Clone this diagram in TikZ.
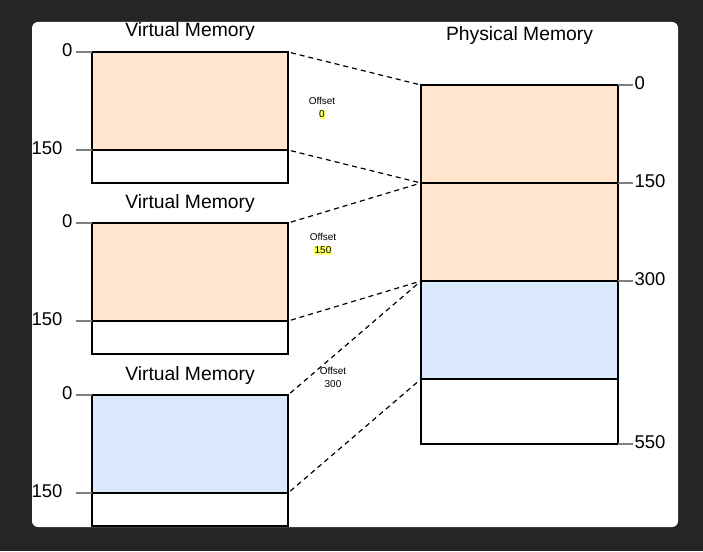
\documentclass[tikz,border=0pt]{standalone}
\usepackage{fontspec}
\setmainfont{Liberation Sans}
\usetikzlibrary{positioning}
\definecolor{peach}{HTML}{FFE6CC}
\definecolor{paleblue}{HTML}{DAE8FC}
\definecolor{tickgray}{HTML}{808080}
\definecolor{bgdark}{HTML}{252525}
\definecolor{hilite}{HTML}{FFFF66}
\newcommand{\hlval}[1]{{\setlength{\fboxsep}{0.7pt}\colorbox{hilite}{#1}}}

\begin{document}
\begin{tikzpicture}[
  x=1pt,y=-1pt,
  cell/.style={draw,line width=1.2pt,outer sep=0pt,inner sep=0pt,minimum width=196pt},
  fullcell/.style={cell,minimum height=98pt},
  tailcell/.style={cell,minimum height=33pt,fill=white},
  memtitle/.style={font=\fontsize{19.3}{22}\selectfont,inner sep=0pt},
  addr/.style={font=\fontsize{18.5}{22}\selectfont,inner sep=1pt,yshift=2pt},
  addrtick/.style={draw=tickgray,line width=1.2pt},
  mapline/.style={line width=1.2pt,dash pattern=on 5pt off 4pt,shorten <=3pt},
  offlabel/.style={font=\fontsize{10}{13}\selectfont,align=center,inner sep=0pt}
  ]
  \useasboundingbox (0,0) rectangle (703,551);
  \fill[bgdark] (0,0) rectangle (703,551);
  \fill[white,rounded corners=6pt] (32,22) rectangle (678,527);

  % virtual memories
  \node[fullcell,fill=peach,anchor=north west] (V1top) at (92,52) {};
  \node[tailcell,below=0pt of V1top] (V1bot) {};
  \node[memtitle,above=15pt of V1top,anchor=base] (V1name) {Virtual Memory};
  \draw[addrtick] (V1top.north west) -- ++(-16,0) node[addr,anchor=east,xshift=-2pt] (V1a0) {0};
  \draw[addrtick] (V1bot.north west) -- ++(-16,0) node[addr,anchor=east,xshift=-12pt] (V1a150) {150};

  \node[fullcell,fill=peach,below=40pt of V1bot] (V2top) {};
  \node[tailcell,below=0pt of V2top] (V2bot) {};
  \node[memtitle,above=15pt of V2top,anchor=base] (V2name) {Virtual Memory};
  \draw[addrtick] (V2top.north west) -- ++(-16,0) node[addr,anchor=east,xshift=-2pt] (V2a0) {0};
  \draw[addrtick] (V2bot.north west) -- ++(-16,0) node[addr,anchor=east,xshift=-12pt] (V2a150) {150};

  \node[fullcell,fill=paleblue,below=41pt of V2bot] (V3top) {};
  \node[tailcell,below=0pt of V3top] (V3bot) {};
  \node[memtitle,above=15pt of V3top,anchor=base] (V3name) {Virtual Memory};
  \draw[addrtick] (V3top.north west) -- ++(-16,0) node[addr,anchor=east,xshift=-2pt] (V3a0) {0};
  \draw[addrtick] (V3bot.north west) -- ++(-16,0) node[addr,anchor=east,xshift=-12pt] (V3a150) {150};

  % physical memory
  \node[fullcell,fill=peach,minimum width=197pt,anchor=north west] (P1) at (421,85) {};
  \node[fullcell,fill=peach,minimum width=197pt,below=0pt of P1] (P2) {};
  \node[fullcell,fill=paleblue,minimum width=197pt,below=0pt of P2] (P3) {};
  \node[cell,fill=white,minimum width=197pt,minimum height=65pt,below=0pt of P3] (P4) {};
  \node[memtitle,above=44pt of P1,anchor=base] (Pname) {Physical Memory};
  \draw[addrtick] (P1.north east) -- ++(15,0) node[addr,anchor=west] (Pa0) {0};
  \draw[addrtick] (P2.north east) -- ++(15,0) node[addr,anchor=west] (Pa150) {150};
  \draw[addrtick] (P3.north east) -- ++(15,0) node[addr,anchor=west] (Pa300) {300};
  \draw[addrtick] (P4.south east) -- ++(15,0) node[addr,anchor=west] (Pa550) {550};

  % mappings
  \draw[mapline] (V1top.north east) -- (P1.north west);
  \draw[mapline] (V1bot.north east) -- (P2.north west);
  \draw[mapline] (V2top.north east) -- (P2.north west);
  \draw[mapline] (V2bot.north east) -- (P3.north west);
  \draw[mapline] (V3top.north east) -- (P3.north west);
  \draw[mapline] (V3bot.north east) -- (P4.north west);

  \node[offlabel] (Off0) at (322,108) {Offset\\\hlval{0}};
  \node[offlabel] (Off150) at (323,244) {Offset\\\hlval{150}};
  \node[offlabel] (Off300) at (333,377) {Offset\\300};
\end{tikzpicture}
\end{document}
